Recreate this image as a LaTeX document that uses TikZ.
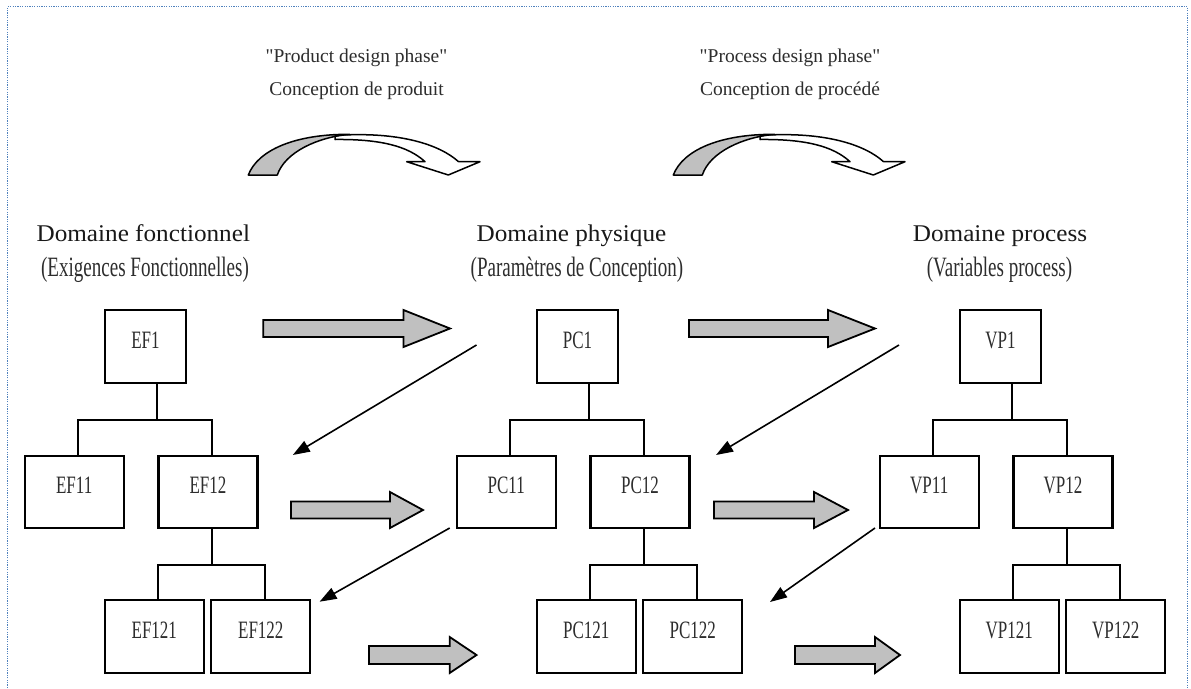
\documentclass[tikz,border=0pt]{standalone}
\usepackage{fontspec}
\setmainfont{Liberation Serif}
\newfontfamily\headfont[FakeStretch=1.05]{Liberation Serif}
\newfontfamily\narrowfont[FakeStretch=0.68]{Liberation Serif}
\newfontfamily\phasefont[Ligatures=TeXOff]{Liberation Serif}
\usetikzlibrary{arrows.meta}

\definecolor{frameblue}{RGB}{79,129,189}
\definecolor{arrowgray}{RGB}{192,192,192}
\definecolor{inkgray}{RGB}{45,45,45}

\tikzset{
  box/.style={draw, line width=2.3pt, inner sep=0pt, text height=16pt, text depth=13pt,
    font=\narrowfont\fontsize{25}{29}\selectfont, text=inkgray},
  topbox/.style={box, minimum width=81pt, minimum height=73pt},
  subbox/.style={box, minimum width=99pt, minimum height=72pt},
  leafbox/.style={box, minimum width=99pt, minimum height=73pt},
  tree/.style={line width=2pt},
  link/.style={line width=1.6pt, -{Triangle[length=17pt,width=12pt]}},
  fat/.style={draw, line width=1.8pt, fill=arrowgray, line join=miter},
  bent/.style={draw, line width=1.5pt, line join=round},
  heading/.style={font=\headfont\fontsize{24}{28}\selectfont, anchor=base, text=black!90},
  subheading/.style={font=\narrowfont\fontsize{28}{32}\selectfont, anchor=base, text=inkgray},
  phase/.style={font=\phasefont\fontsize{19.5}{23}\selectfont, anchor=base, text=inkgray},
  framedash/.style={draw=frameblue, line width=1.2pt, dash pattern=on 1.2pt off 1.2pt},
}

% straight block arrow: start x, head start x, tip x, centre y, shaft half, head half
\newcommand{\fatarrow}[6]{%
  \draw[fat] (#1,#4-#5) -- (#2,#4-#5) -- (#2,#4-#6) -- (#3,#4)
    -- (#2,#4+#6) -- (#2,#4+#5) -- (#1,#4+#5) -- cycle;}

% curved "design phase" arrow, shifted horizontally by #1
\newcommand{\bentarrow}[1]{%
  \begin{scope}[shift={(#1,0)}]
    % white upper band with the head
    \draw[bent, fill=white] (335,135.5) .. controls (400,131) and (440,145) .. (458.3,161.5)
      -- (480,161.7) -- (448.3,175) -- (406.7,161.7) -- (425,161.7)
      .. controls (408,146) and (380,139) .. (335,139.5) -- cycle;
    % shaded underside of the band
    \draw[bent, fill=arrowgray] (248.3,175) .. controls (258,150) and (295,134) .. (350,134.3)
      .. controls (318,137) and (285,152) .. (277.3,175) -- cycle;
  \end{scope}}

\begin{document}
\begin{tikzpicture}[x=1pt, y=-1pt]
  \useasboundingbox (0,0) rectangle (1191,688);
  \fill[white] (0,0) rectangle (1191,688);

  % page frame
  \draw[framedash] (7.5,688) -- (7.5,6.7) -- (1187.5,6.7) -- (1187.5,688);

  % design phases
  \node[phase] (ph1a) at (356.5,62.3) {"Product design phase"};
  \node[phase] (ph1b) at (356.5,95) {Conception de produit};
  \node[phase] (ph2a) at (790,62.3) {"Process design phase"};
  \node[phase] (ph2b) at (790,95) {Conception de procédé};
  \bentarrow{0}
  \bentarrow{425}

  % domain titles
  \node[heading] (d1) at (143.3,241) {Domaine fonctionnel};
  \node[subheading] (d1s) at (145,276.7) {(Exigences Fonctionnelles)};
  \node[heading] (d2) at (571.5,241) {Domaine physique};
  \node[subheading] (d2s) at (577,276.7) {(Paramètres de Conception)};
  \node[heading] (d3) at (1000,241) {Domaine process};
  \node[subheading] (d3s) at (999.5,276.7) {(Variables process)};

  % hierarchies in the three domains
  \foreach \p/\dx in {EF/0, PC/432, VP/855} {
    \node[topbox]  (\p1)   at (145.5+\dx,346.5) {\p1};
    \node[subbox]  (\p11)  at (74.2+\dx,492)    {\p11};
    \node[subbox]  (\p12)  at (208+\dx,492)     {\p12};
    \node[leafbox] (\p121) at (154.3+\dx,636.5) {\p121};
    \node[leafbox] (\p122) at (260.8+\dx,636.5) {\p122};
    \draw[tree] (\p1.south -| \p12.west) -- ++(0,36) -| ([xshift=4pt]\p11.north);
    \draw[tree] (\p1.south -| \p12.west) -- ++(0,36) -| ([xshift=4pt]\p12.north);
    \draw[tree] ([xshift=4pt]\p12.south) -- ++(0,36) -| ([xshift=4pt]\p121.north);
    \draw[tree] ([xshift=4pt]\p12.south) -- ++(0,36) -| ([xshift=4pt]\p122.north);
  }

  % mapping between domains
  \fatarrow{263.3}{403.5}{450}{328.5}{8.5}{18.5}
  \fatarrow{689}{828}{875}{328.5}{8.5}{18.5}
  \fatarrow{291}{390}{423}{510}{8.5}{18}
  \fatarrow{714}{814}{848}{510}{8.5}{18}
  \fatarrow{369}{449.7}{476.5}{655}{9}{18}
  \fatarrow{795}{875}{900}{655}{9}{18}

  % zigzagging back to the next level
  \coordinate (z1a) at (476.5,345);  \coordinate (z1b) at (292.8,455);
  \coordinate (z2a) at (449.7,528);  \coordinate (z2b) at (319.6,601.7);
  \coordinate (z3a) at (899,345);    \coordinate (z3b) at (716,455);
  \coordinate (z4a) at (875,528);    \coordinate (z4b) at (770,602);
  \draw[link] (z1a) -- (z1b);
  \draw[link] (z2a) -- (z2b);
  \draw[link] (z3a) -- (z3b);
  \draw[link] (z4a) -- (z4b);
\end{tikzpicture}
\end{document}
